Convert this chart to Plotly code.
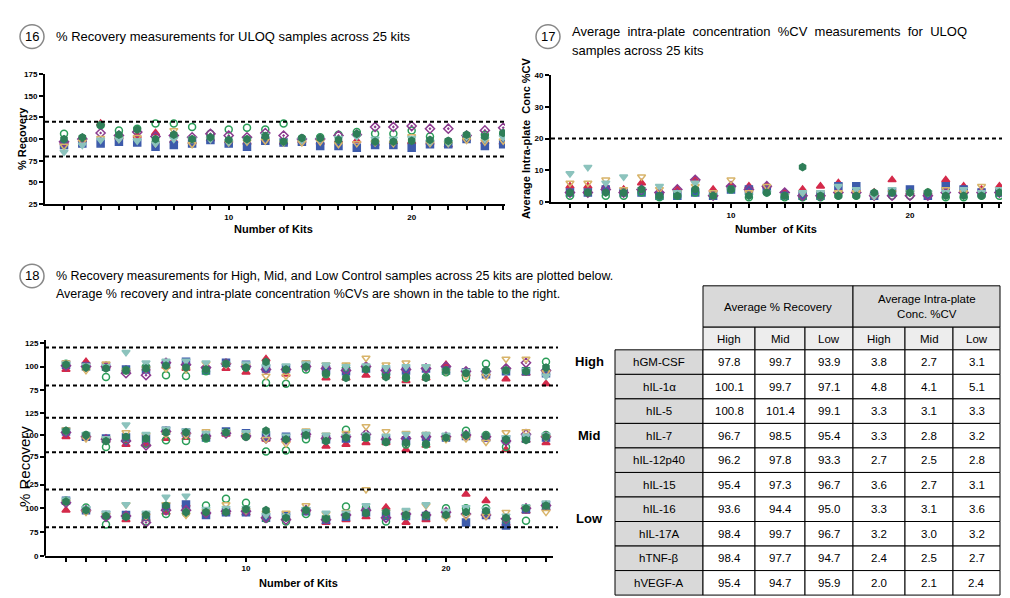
import plotly.graph_objects as go

W, H = 1010, 598

kits = list(range(1, 26))

# analyte series shown in the scatter panels
series_names = ["hGM-CSF", "hIL-1α", "hIL-5", "hIL-7", "hIL-15", "hIL-16", "hIL-17A"]

uloq_recovery = {
    "hGM-CSF": [96, 99, 118, 102, 104, 107, 98, 97, 100, 98, 96, 100, 96, 98, 96, 98, 98, 95, 97, 97, 96, 93, 101, 97, 96],
    "hIL-1α": [93, 95, 95, 97, 96, 91, 93, 95, 99, 95, 91, 98, 96, 97, 92, 92, 90, 93, 93, 90, 94, 94, 100, 92, 94],
    "hIL-5": [106, 101, 116, 110, 112, 118, 118, 114, 106, 111, 113, 111, 118, 101, 102, 105, 108, 106, 106, 110, 103, 97, 103, 105, 106],
    "hIL-7": [97, 100, 107, 104, 108, 103, 104, 102, 106, 104, 102, 107, 104, 100, 100, 104, 105, 114, 114, 115, 112, 112, 104, 110, 113],
    "hIL-15": [92, 97, 101, 100, 102, 95, 110, 94, 100, 96, 97, 98, 96, 96, 97, 94, 95, 96, 95, 103, 95, 95, 99, 97, 98],
    "hIL-16": [85, 93, 99, 100, 98, 95, 100, 100, 100, 97, 99, 104, 97, 99, 100, 101, 103, 100, 100, 101, 97, 96, 103, 100, 102],
    "hIL-17A": [100, 102, 116, 105, 111, 100, 105, 100, 102, 99, 100, 103, 97, 101, 101, 99, 106, 97, 97, 98, 99, 98, 105, 103, 107],
}

uloq_cv = {
    "hGM-CSF": [5, 5, 5, 4, 6, 3, 4, 7, 4, 5, 5, 5, 3, 4, 5, 6, 4, 3, 7, 3, 3, 7, 5, 4, 5],
    "hIL-1α": [3, 3, 4, 3, 3, 2, 2, 3, 2, 4, 4, 4, 2, 2, 2, 5, 5, 2, 3, 4, 2, 5, 4, 3, 3],
    "hIL-5": [2, 3, 2, 2, 3, 1.5, 2, 3, 2, 4, 1.5, 3, 1.5, 1.5, 1.5, 2, 2, 2, 2, 2, 3, 1.5, 1.5, 2, 2],
    "hIL-7": [3, 3, 4, 3, 4, 3, 4, 7, 2, 5, 4, 5, 3, 2, 2, 3, 3, 2, 2, 2, 2, 3, 3, 3, 3],
    "hIL-15": [6, 6, 7, 4, 8, 4, 3, 5, 3, 7, 3, 5, 2, 3, 3, 3, 3, 2, 3, 3, 3, 4, 3, 5, 4],
    "hIL-16": [9, 11, 6, 8, 4, 5, 3, 6, 2, 4, 2, 3, 2, 3, 3, 5, 4, 2, 4, 3, 3, 3, 4, 3, 4],
    "hIL-17A": [3, 3, 3, 3, 4, 2, 2, 4, 2, 4, 2, 3, 2, 11, 2, 2, 2, 3, 3, 3, 3, 2, 2, 2, 3],
}

high_recovery = {
    "hGM-CSF": [97, 105, 100, 97, 98, 100, 98, 100, 98, 94, 108, 92, 102, 88, 88, 91, 90, 85, 88, 102, 92, 93, 87, 93, 82],
    "hIL-1α": [102, 100, 100, 97, 97, 103, 105, 96, 104, 102, 98, 98, 102, 97, 95, 98, 95, 96, 98, 96, 94, 92, 95, 95, 93],
    "hIL-5": [103, 100, 89, 96, 100, 91, 90, 95, 103, 99, 83, 82, 97, 92, 99, 99, 92, 88, 89, 94, 88, 103, 96, 96, 105],
    "hIL-7": [101, 100, 100, 93, 91, 104, 102, 99, 103, 100, 97, 97, 100, 98, 96, 100, 96, 97, 98, 100, 95, 95, 98, 104, 96],
    "hIL-15": [104, 96, 103, 96, 98, 98, 97, 103, 102, 101, 90, 90, 104, 102, 102, 109, 102, 104, 100, 95, 90, 90, 108, 108, 94],
    "hIL-16": [103, 101, 100, 115, 104, 106, 106, 104, 103, 103, 100, 101, 103, 102, 100, 101, 99, 100, 100, 96, 95, 94, 95, 96, 90],
    "hIL-17A": [102, 99, 98, 96, 98, 101, 99, 97, 103, 99, 105, 97, 100, 93, 88, 97, 89, 89, 88, 96, 93, 96, 96, 95, 99],
}

mid_recovery = {
    "hGM-CSF": [98, 97, 94, 89, 89, 96, 97, 98, 101, 99, 95, 94, 100, 87, 89, 91, 91, 83, 88, 97, 100, 96, 83, 94, 91],
    "hIL-1α": [104, 98, 96, 97, 96, 105, 103, 97, 104, 102, 98, 98, 101, 95, 96, 98, 95, 94, 98, 97, 99, 97, 95, 96, 97],
    "hIL-5": [104, 100, 86, 94, 90, 94, 93, 96, 103, 98, 81, 82, 95, 94, 106, 97, 92, 89, 89, 97, 105, 100, 86, 96, 100],
    "hIL-7": [103, 98, 95, 93, 88, 104, 102, 99, 102, 99, 96, 95, 101, 96, 98, 101, 95, 96, 98, 98, 100, 98, 93, 101, 98],
    "hIL-15": [106, 96, 96, 103, 100, 101, 100, 104, 103, 100, 95, 90, 105, 100, 102, 110, 104, 102, 101, 95, 96, 92, 103, 104, 97],
    "hIL-16": [105, 101, 96, 112, 101, 107, 105, 102, 104, 103, 102, 99, 104, 100, 99, 100, 99, 101, 101, 100, 101, 99, 97, 99, 100],
    "hIL-17A": [105, 100, 93, 98, 96, 103, 103, 97, 103, 98, 105, 95, 100, 93, 97, 98, 92, 91, 90, 97, 100, 99, 95, 94, 98],
}

low_recovery = {
    "hGM-CSF": [98, 98, 93, 88, 89, 96, 104, 96, 96, 95, 91, 90, 98, 85, 88, 91, 101, 85, 88, 93, 115, 108, 84, 97, 100],
    "hIL-1α": [108, 98, 93, 93, 91, 102, 104, 93, 96, 96, 90, 92, 97, 88, 91, 96, 92, 92, 92, 94, 85, 93, 82, 99, 103],
    "hIL-5": [108, 101, 83, 92, 86, 94, 95, 103, 110, 106, 89, 86, 94, 90, 102, 101, 86, 92, 92, 100, 100, 100, 88, 87, 102],
    "hIL-7": [106, 98, 91, 92, 85, 98, 98, 95, 97, 97, 90, 88, 98, 88, 93, 98, 90, 94, 93, 96, 94, 93, 89, 100, 103],
    "hIL-15": [107, 96, 93, 104, 92, 104, 93, 97, 104, 98, 95, 95, 103, 94, 96, 120, 96, 97, 103, 90, 92, 92, 96, 101, 96],
    "hIL-16": [109, 100, 95, 104, 95, 112, 113, 99, 100, 100, 93, 92, 99, 95, 95, 103, 96, 98, 104, 97, 101, 99, 92, 102, 106],
    "hIL-17A": [107, 98, 92, 91, 93, 103, 96, 96, 96, 99, 98, 90, 98, 89, 92, 95, 96, 93, 93, 93, 96, 97, 90, 100, 103],
}

# table data
table_analytes = ["hGM-CSF", "hIL-1α", "hIL-5", "hIL-7", "hIL-12p40", "hIL-15", "hIL-16", "hIL-17A", "hTNF-β", "hVEGF-A"]
rec_high = ["97.8", "100.1", "100.8", "96.7", "96.2", "95.4", "93.6", "98.4", "98.4", "95.4"]
rec_mid = ["99.7", "99.7", "101.4", "98.5", "97.8", "97.3", "94.4", "99.7", "97.7", "94.7"]
rec_low = ["93.9", "97.1", "99.1", "95.4", "93.3", "96.7", "95.0", "96.7", "94.7", "95.9"]
cv_high = ["3.8", "4.8", "3.3", "3.3", "2.7", "3.6", "3.3", "3.2", "2.4", "2.0"]
cv_mid = ["2.7", "4.1", "3.1", "2.8", "2.5", "2.7", "3.1", "3.0", "2.5", "2.1"]
cv_low = ["3.1", "5.1", "3.3", "3.2", "2.8", "3.1", "3.6", "3.2", "2.7", "2.4"]

styles = {
    "hGM-CSF": dict(symbol="triangle-up", color="#d42a4a"),
    "hIL-1α": dict(symbol="square", color="#3d5bab"),
    "hIL-5": dict(symbol="circle-open", color="#2a9d58"),
    "hIL-7": dict(symbol="diamond-open-dot", color="#8b3a8f"),
    "hIL-15": dict(symbol="triangle-down-open", color="#d8b46a"),
    "hIL-16": dict(symbol="triangle-down", color="#8cc3bd"),
    "hIL-17A": dict(symbol="hexagon", color="#2f7e58"),
}

FONT = "Liberation Sans, Arial, sans-serif"


def px(x):
    return x / W


def py(y):
    return 1 - y / H


fig = go.Figure()


def add_panel(data, xa, ya):
    for name in series_names:
        st = styles[name]
        fig.add_trace(go.Scatter(
            x=kits, y=data[name], mode="markers", name=name,
            xaxis=xa, yaxis=ya, showlegend=False,
            marker=dict(symbol=st["symbol"], color=st["color"], size=7,
                        line=dict(width=1.5, color=st["color"])),
        ))


add_panel(uloq_recovery, "x", "y")
add_panel(uloq_cv, "x2", "y2")
add_panel(high_recovery, "x3", "y3")
add_panel(mid_recovery, "x3", "y4")
add_panel(low_recovery, "x3", "y5")

kit_ticks = dict(tickvals=kits, ticktext=[str(k) if k in (10, 20) else "" for k in kits])
axis_common = dict(showgrid=False, zeroline=False, showline=True, linecolor="black", linewidth=2,
                   ticks="outside", ticklen=4, tickwidth=1.5, tickcolor="black",
                   tickfont=dict(family=FONT, size=8, color="black", weight="bold"))

fig.update_layout(
    width=W, height=H, margin=dict(l=0, r=0, t=0, b=0),
    paper_bgcolor="white", plot_bgcolor="white",
    font=dict(family=FONT, color="black"),
    xaxis=dict(domain=[px(37), px(497)], range=[-0.04, 25.1], anchor="y", **kit_ticks, **axis_common),
    yaxis=dict(domain=[py(195), py(63)], range=[25, 175], dtick=25, anchor="x", **axis_common),
    xaxis2=dict(domain=[px(543), px(995)], range=[-0.06, 25.2], anchor="y2", **kit_ticks, **axis_common),
    yaxis2=dict(domain=[py(193), py(64)], range=[0, 40], dtick=10, anchor="x2", **axis_common),
    xaxis3=dict(domain=[px(37), px(545)], range=[-0.05, 25.35], anchor="y5", **kit_ticks, **axis_common),
)
seg = dict(axis_common)
seg["showline"] = False
fig.update_layout(
    yaxis3=dict(domain=[py(387), py(333)], range=[72, 128], tickvals=[75, 100, 125], anchor="x3", **seg),
    yaxis4=dict(domain=[py(454), py(405)], range=[72, 128], tickvals=[75, 100, 125], anchor="x3", **seg),
    yaxis5=dict(domain=[py(552), py(477)], range=[50, 128], tickvals=[50, 75, 100, 125],
                ticktext=["0", "75", "100", "125"], anchor="x3", **seg),
)

dash = dict(color="black", width=2, dash="4px,3px")
fig.add_shape(type="line", xref="x domain", yref="y", x0=0, x1=1, y0=80, y1=80, line=dash)
fig.add_shape(type="line", xref="x domain", yref="y", x0=0, x1=1, y0=120, y1=120, line=dash)
fig.add_shape(type="line", xref="x2 domain", yref="y2", x0=0, x1=1, y0=20, y1=20, line=dash)
for yr in ("y3", "y4", "y5"):
    for v in (80, 120):
        fig.add_shape(type="line", xref="paper", yref=yr, x0=px(37), x1=px(550), y0=v, y1=v, line=dash)
fig.add_shape(type="line", xref="paper", yref="paper", x0=px(37), x1=px(37), y0=py(552), y1=py(333),
              line=dict(color="black", width=2))

ann = []


def text(x, y, s, size=12.5, xanchor="left", yanchor="middle", **kw):
    ann.append(dict(x=px(x), y=py(y), xref="paper", yref="paper", text=s, showarrow=False,
                    xanchor=xanchor, yanchor=yanchor, font=dict(family=FONT, size=size, color="black"), **kw))


# circled panel numbers
for cx, cy, num in ((24, 25, "16"), (540, 25, "17"), (24, 268, "18")):
    fig.add_shape(type="circle", xref="paper", yref="paper", x0=px(cx - 12), x1=px(cx + 12),
                  y0=py(cy + 12), y1=py(cy - 12), line=dict(color="#888", width=1.5))
    text(cx, cy, num, size=13, xanchor="center")

text(46, 25, "% Recovery measurements for ULOQ samples across 25 kits", size=13)
text(562, 20, "Average  intra-plate  concentration  %CV  measurements  for  ULOQ", size=13)
text(562, 39, "samples across 25 kits", size=13)
text(46, 268, "% Recovery measurements for High, Mid, and Low Control samples across 25 kits are plotted below.", size=12.5)
text(46, 286, "Average % recovery and intra-plate concentration %CVs are shown in the table to the right.", size=12.5)

text(265, 220, "<b>Number of Kits</b>", size=11, xanchor="center")
text(768, 220, "<b>Number  of Kits</b>", size=11, xanchor="center")
text(290, 580, "<b>Number of Kits</b>", size=11, xanchor="center")
text(14, 129, "<b>% Recovery</b>", size=11, xanchor="center", textangle=-90)
text(518, 128, "<b>Average Intra-plate  Conc %CV</b>", size=11, xanchor="center", textangle=-90)
text(16, 462, "% Recovery", size=15, xanchor="center", textangle=-90)
text(581, 355, "<b>High</b>", size=13, xanchor="center")
text(581, 430, "<b>Mid</b>", size=13, xanchor="center")
text(581, 514, "<b>Low</b>", size=13, xanchor="center")

# table
col_x = [607, 695, 747, 797, 845, 897, 945, 992]
r0, r1, r2 = 278, 320, 343
row_h = (592 - r2) / len(table_analytes)
line = dict(color="black", width=1)


def rect(x0, y0, x1, y1, fill):
    fig.add_shape(type="rect", xref="paper", yref="paper", x0=px(x0), x1=px(x1), y0=py(y1), y1=py(y0),
                  fillcolor=fill, line=line, layer="below")


rect(col_x[1], r0, col_x[4], r1, "#d9d9d9")
rect(col_x[4], r0, col_x[7], r1, "#d9d9d9")
text((col_x[1] + col_x[4]) / 2, (r0 + r1) / 2, "Average % Recovery", size=11.5, xanchor="center")
text((col_x[4] + col_x[7]) / 2, (r0 + r1) / 2, "Average Intra-plate<br>Conc. %CV", size=11.5, xanchor="center")
for i, lab in enumerate(["High", "Mid", "Low", "High", "Mid", "Low"]):
    rect(col_x[i + 1], r1, col_x[i + 2], r2, "#ededed")
    text((col_x[i + 1] + col_x[i + 2]) / 2, (r1 + r2) / 2, lab, size=11.5, xanchor="center")
cols = [rec_high, rec_mid, rec_low, cv_high, cv_mid, cv_low]
for r, name in enumerate(table_analytes):
    y0 = r2 + r * row_h
    y1 = y0 + row_h
    rect(col_x[0], y0, col_x[1], y1, "#d9d9d9")
    text((col_x[0] + col_x[1]) / 2, (y0 + y1) / 2, name, size=11.5, xanchor="center")
    for c, vals in enumerate(cols):
        rect(col_x[c + 1], y0, col_x[c + 2], y1, "white")
        text((col_x[c + 1] + col_x[c + 2]) / 2, (y0 + y1) / 2, vals[r], size=11.5, xanchor="center")

fig.update_layout(annotations=ann)
fig.write_html("out.html")
